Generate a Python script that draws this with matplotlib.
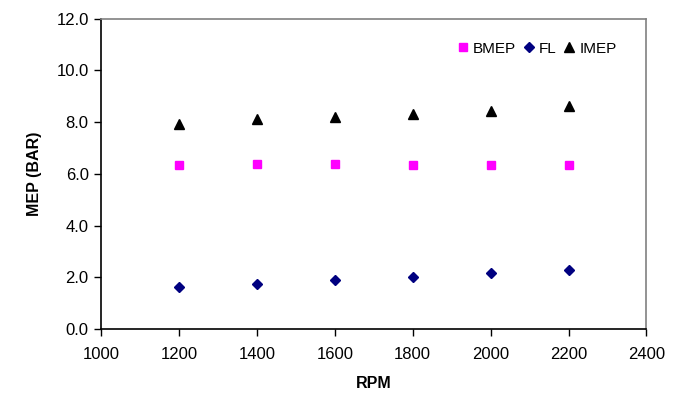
import matplotlib
matplotlib.use("Agg")
import matplotlib.pyplot as plt

plt.rcParams['font.family'] = ['Liberation Sans', 'DejaVu Sans']

rpm = [1200, 1400, 1600, 1800, 2000, 2200]
bmep = [6.34, 6.40, 6.40, 6.33, 6.33, 6.33]
fl = [1.62, 1.74, 1.90, 2.01, 2.19, 2.30]
imep = [7.93, 8.11, 8.21, 8.32, 8.44, 8.62]

x_ticks = [1000, 1200, 1400, 1600, 1800, 2000, 2200, 2400]
y_ticks = [0, 2, 4, 6, 8, 10, 12]

fig = plt.figure(figsize=(6.79, 4.03), dpi=100)
ax = fig.add_axes([0.149, 0.183, 0.803, 0.771])

ax.plot(rpm, bmep, linestyle='none', marker='s', markersize=6, color='#FF00FF', label='BMEP')
ax.plot(rpm, fl, linestyle='none', marker='D', markersize=5.5, color='#000080', label='FL')
ax.plot(rpm, imep, linestyle='none', marker='^', markersize=7, color='black', label='IMEP')

ax.set_xlim(1000, 2400)
ax.set_ylim(0, 12)
ax.set_xticks(x_ticks)
ax.set_yticks(y_ticks)
ax.set_yticklabels([f"{v:.1f}" for v in y_ticks])
ax.tick_params(direction='out', length=5, width=1, labelsize=12, colors='black', pad=4)
ax.tick_params(axis='x', pad=8)

for s in ['left', 'bottom']:
    ax.spines[s].set_color('black')
    ax.spines[s].set_linewidth(1.2)
for s in ['top', 'right']:
    ax.spines[s].set_color('#808080')
    ax.spines[s].set_linewidth(1.2)

ax.set_xlabel('RPM', fontsize=11.5, fontweight='bold', labelpad=10)
ax.set_ylabel('MEP (BAR)', fontsize=11.5, fontweight='bold', labelpad=10)

leg = ax.legend(loc='upper right', bbox_to_anchor=(0.965, 0.96), ncol=3, frameon=False,
                fontsize=11, handletextpad=0.15, columnspacing=0.35, handlelength=1.0,
                borderaxespad=0.3)

fig.savefig('out.png', dpi=100)
